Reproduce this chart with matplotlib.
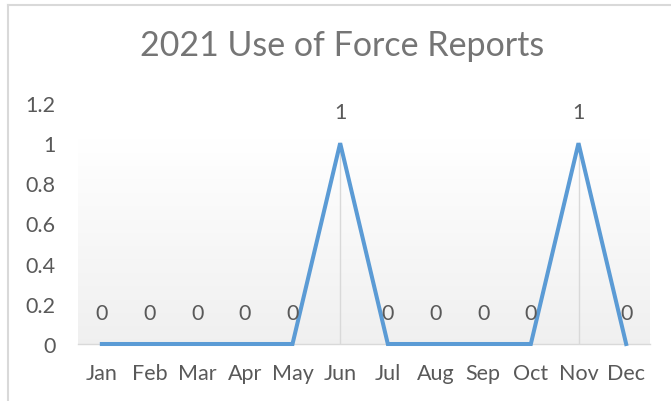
import matplotlib
matplotlib.use("Agg")
import matplotlib.pyplot as plt
from matplotlib.lines import Line2D
import numpy as np

months = ["Jan", "Feb", "Mar", "Apr", "May", "Jun", "Jul", "Aug", "Sep", "Oct", "Nov", "Dec"]
reports = [0, 0, 0, 0, 0, 1, 0, 0, 0, 0, 1, 0]
y_ticks = [0, 0.2, 0.4, 0.6, 0.8, 1, 1.2]
y_tick_labels = ["0", "0.2", "0.4", "0.6", "0.8", "1", "1.2"]

plt.rcParams['font.family'] = ['Lato', 'DejaVu Sans']
txt = "#595959"

fig = plt.figure(figsize=(6.71, 4.02), dpi=100)
ax = fig.add_axes([78/671, 57/402, 572/671, 241/402])

x = np.arange(len(months))
ax.set_xlim(-0.5, len(months) - 0.5)
ax.set_ylim(0, 1.2)

# gradient background
grad = np.linspace(0, 1, 256).reshape(-1, 1)
vals = np.clip(grad / 0.85, 0, 1)
top = np.array([1.0, 1.0, 1.0])
bot = np.array([0.94, 0.94, 0.94])
img = bot + (top - bot) * vals[..., None]
img = img[::-1]
ax.imshow(img, extent=[-0.5, len(months) - 0.5, 0, 1.2], aspect='auto', zorder=0, origin='upper')

# drop lines
for xi, v in zip(x, reports):
    if v > 0:
        ax.plot([xi, xi], [0, v], color="#d9d9d9", lw=1.0, zorder=1)

ax.plot(x, reports, color="#5B9BD5", lw=2.9, solid_joinstyle='miter', zorder=3, clip_on=False)

for xi, v in zip(x, reports):
    ax.annotate(str(v), (xi, v), xytext=(0, 22.5), textcoords='offset points',
                ha='center', va='center', fontsize=15.5, color=txt, zorder=4)

for s in ["top", "right", "left"]:
    ax.spines[s].set_visible(False)
ax.spines["bottom"].set_color("#d9d9d9")
ax.spines["bottom"].set_linewidth(1.0)

ax.set_xticks(x)
ax.set_xticklabels(months)
ax.set_yticks(y_ticks)
ax.set_yticklabels(y_tick_labels)
ax.tick_params(axis='both', length=0, labelsize=15.5, colors=txt)
ax.tick_params(axis='x', pad=14)
ax.tick_params(axis='y', pad=16)

fig.text(342/671, 1 - 46/402, "2021 Use of Force Reports", ha='center', va='center',
         fontsize=24.5, color="#757575")

# chart border (left and top)
fig.add_artist(Line2D([8/671, 8/671], [0, 1 - 6/402], color="#d9d9d9", lw=1.5, transform=fig.transFigure))
fig.add_artist(Line2D([8/671, 1], [1 - 6/402, 1 - 6/402], color="#d9d9d9", lw=1.5, transform=fig.transFigure))

fig.savefig("out.png", dpi=100)
